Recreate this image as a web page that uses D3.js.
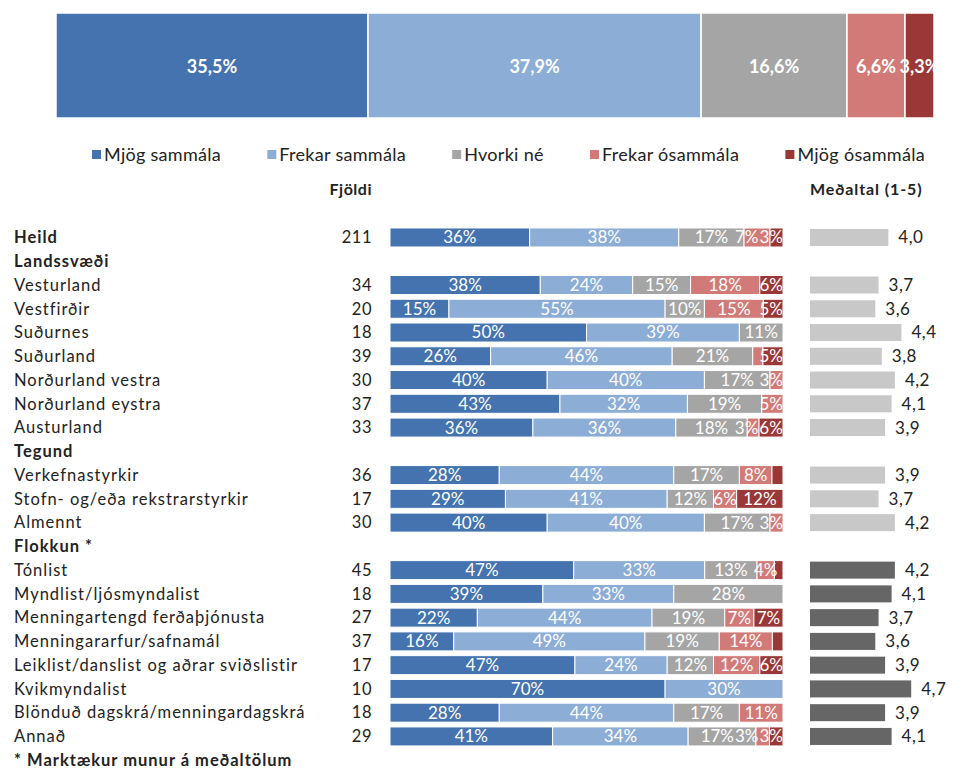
<!DOCTYPE html>
<html>
<head>
<meta charset="utf-8">
<script src="https://cdn.jsdelivr.net/npm/d3@7"></script>
<style>
  body { margin: 0; background: #fff; }
  svg { font-family: Lato, "Open Sans", sans-serif; }
</style>
</head>
<body>
<div id="chart"></div>
<script>
// svarflokkar
const categories = ["Mjög sammála", "Frekar sammála", "Hvorki né", "Frekar ósammála", "Mjög ósammála"];
const colors = ["#4473AF", "#8CADD5", "#A5A5A5", "#D27A77", "#993837"];

// heildin efst
const totalShares = [35.5, 37.9, 16.6, 6.6, 3.3];

// raðir
const rowLabels = ["Heild", "Landssvæði", "Vesturland", "Vestfirðir", "Suðurnes", "Suðurland",
  "Norðurland vestra", "Norðurland eystra", "Austurland", "Tegund", "Verkefnastyrkir",
  "Stofn- og/eða rekstrarstyrkir", "Almennt", "Flokkun *", "Tónlist", "Myndlist/ljósmyndalist",
  "Menningartengd ferðaþjónusta", "Menningararfur/safnamál", "Leiklist/danslist og aðrar sviðslistir",
  "Kvikmyndalist", "Blönduð dagskrá/menningardagskrá", "Annað"];
const boldRows = ["Heild", "Landssvæði", "Tegund", "Flokkun *"];
const counts = [211, null, 34, 20, 18, 39, 30, 37, 33, null, 36, 17, 30, null, 45, 18, 27, 37, 17, 10, 18, 29];
const shares = [
  [35.5, 37.9, 16.6, 6.6, 3.3],
  null,
  [38.2, 23.5, 14.7, 17.6, 5.9],
  [15.0, 55.0, 10.0, 15.0, 5.0],
  [50.0, 38.9, 11.1, 0, 0],
  [25.6, 46.2, 20.5, 2.6, 5.1],
  [40.0, 40.0, 16.7, 3.3, 0],
  [43.2, 32.4, 18.9, 5.4, 0],
  [36.4, 36.4, 18.2, 3.0, 6.1],
  null,
  [27.8, 44.4, 16.7, 8.3, 2.8],
  [29.4, 41.2, 11.8, 5.9, 11.8],
  [40.0, 40.0, 16.7, 3.3, 0],
  null,
  [46.7, 33.3, 13.3, 4.4, 2.2],
  [38.9, 33.3, 27.8, 0, 0],
  [22.2, 44.4, 18.5, 7.4, 7.4],
  [16.2, 48.6, 18.9, 13.5, 2.7],
  [47.1, 23.5, 11.8, 11.8, 5.9],
  [70.0, 30.0, 0, 0, 0],
  [27.8, 44.4, 16.7, 11.1, 0],
  [41.38, 34.48, 17.24, 3.45, 3.45]
];
const means = [4.0, null, 3.7, 3.6, 4.4, 3.8, 4.2, 4.1, 3.9, null, 3.9, 3.7, 4.2, null, 4.2, 4.1, 3.7, 3.6, 3.9, 4.7, 3.9, 4.1];
const significantFrom = 14; // Flokkun-raðir með dökkum meðaltalsstöplum
const footnote = "* Marktækur munur á meðaltölum";

const width = 953, height = 770;
const svg = d3.select("#chart").append("svg")
  .attr("width", width).attr("height", height);

const fmtPct = v => Math.round(v) + "%";
const fmtTop = v => d3.format(".1f")(v).replace(".", ",") + "%";
const fmtMean = v => d3.format(".1f")(v).replace(".", ",");

// ---- efsti stöpullinn
const xTop = d3.scaleLinear().domain([0, d3.sum(totalShares)]).range([56, 934]);
const topStack = [];
let acc = 0;
totalShares.forEach((v, i) => { topStack.push({ v, i, x0: acc, x1: acc + v }); acc += v; });

const topG = svg.append("g");
topG.selectAll("rect").data(topStack).join("rect")
  .attr("x", d => xTop(d.x0)).attr("y", 13)
  .attr("width", d => xTop(d.x1) - xTop(d.x0)).attr("height", 105)
  .attr("fill", d => colors[d.i]).attr("stroke", "#fff").attr("stroke-width", 1.5);
topG.selectAll("text").data(topStack).join("text")
  .attr("x", d => (xTop(d.x0) + xTop(d.x1)) / 2).attr("y", 66)
  .attr("text-anchor", "middle").attr("dominant-baseline", "central")
  .attr("fill", "#fff").style("font-size", "18px").style("font-weight", 700)
  .text(d => fmtTop(d.v));

// ---- skýringar, dreift á milli 92 og 925
const legend = svg.append("g").style("font-size", "18px").style("letter-spacing", "0.3px").attr("fill", "#222");
const items = categories.map((c, i) => {
  const t = legend.append("text").attr("y", 155).attr("dy", "0.35em").text(c);
  return { t, i, w: t.node().getComputedTextLength() };
});
const gap = (925 - 92 - d3.sum(items, d => d.w + 12)) / (items.length - 1);
let lx = 92;
items.forEach(d => {
  legend.append("rect").attr("x", lx).attr("y", 150).attr("width", 9).attr("height", 9).attr("fill", colors[d.i]);
  d.t.attr("x", lx + 12);
  lx += 12 + d.w + gap;
});

// ---- raðir
const y = d3.scaleBand().domain(d3.range(rowLabels.length + 1))
  .range([225.6, 225.6 + 23.76 * (rowLabels.length + 1)]).paddingInner(0.2).paddingOuter(0.1);
const yc = i => y(i) + y.bandwidth() / 2;

svg.append("text").attr("x", 372).attr("y", 189).attr("dy", "0.35em").attr("text-anchor", "end")
  .style("font-size", "16px").style("font-weight", 700).style("letter-spacing", "0.5px").attr("fill", "#222").text("Fjöldi");
svg.append("text").attr("x", 810).attr("y", 189).attr("dy", "0.35em")
  .style("font-size", "16px").style("font-weight", 700).style("letter-spacing", "0.9px").attr("fill", "#222").text("Meðaltal (1-5)");

const labelG = svg.append("g").style("font-size", "16.5px").attr("fill", "#222");
labelG.selectAll("text.lab").data(rowLabels).join("text").attr("class", "lab")
  .attr("x", 14).attr("y", (d, i) => yc(i)).attr("dy", "0.35em")
  .style("letter-spacing", "1px")
  .style("font-weight", d => boldRows.includes(d) ? 700 : 400)
  .text(d => d);
labelG.selectAll("text.n").data(counts).join("text").attr("class", "n")
  .attr("x", 372).attr("y", (d, i) => yc(i)).attr("dy", "0.35em").attr("text-anchor", "end")
  .style("letter-spacing", "0.5px")
  .text(d => d == null ? "" : d);
labelG.append("text").attr("x", 14).attr("y", yc(rowLabels.length)).attr("dy", "0.35em")
  .style("font-weight", 700).style("letter-spacing", "1px").text(footnote);

// staflaðir stöplar
const x = d3.scaleLinear().domain([0, 100]).range([390, 783]);
const barG = svg.append("g");
shares.forEach((row, r) => {
  if (!row) return;
  const tot = d3.sum(row);
  let a = 0;
  const segs = row.map((v, i) => { const s = { v, i, x0: a / tot * 100, x1: (a + v) / tot * 100 }; a += v; return s; })
    .filter(s => s.v > 0);
  const g = barG.append("g");
  g.selectAll("rect").data(segs).join("rect")
    .attr("x", d => x(d.x0)).attr("y", y(r))
    .attr("width", d => x(d.x1) - x(d.x0)).attr("height", y.bandwidth())
    .attr("fill", d => colors[d.i]).attr("stroke", "#fff").attr("stroke-width", 1);
  const labs = segs.filter(s => s.v >= 3);
  const texts = g.selectAll("text").data(labs).join("text")
    .attr("y", yc(r)).attr("dy", "0.35em").attr("text-anchor", "middle")
    .attr("fill", "#fff").style("font-size", "17px")
    .text(d => fmtPct(d.v));
  // ýta merkjum til vinstri svo þau skarist ekki
  const nodes = texts.nodes();
  let limit = x(100);
  for (let k = nodes.length - 1; k >= 0; k--) {
    const d = labs[k];
    const w = nodes[k].getComputedTextLength();
    let cx = (x(d.x0) + x(d.x1)) / 2;
    if (cx + w / 2 > limit) cx = limit - w / 2;
    d3.select(nodes[k]).attr("x", cx);
    limit = cx - w / 2 - 1;
  }
});

// meðaltöl
const xm = d3.scaleLinear().domain([1.6, 5]).range([810, 921]);
const meanG = svg.append("g");
means.forEach((m, r) => {
  if (m == null) return;
  meanG.append("rect").attr("x", xm(1.6)).attr("y", y(r) + 1)
    .attr("width", xm(m) - xm(1.6)).attr("height", y.bandwidth() - 2)
    .attr("fill", r >= significantFrom ? "#666666" : "#C8C8C8");
  meanG.append("text").attr("x", xm(m) + 10).attr("y", yc(r)).attr("dy", "0.35em")
    .style("font-size", "17px").style("letter-spacing", "0.5px").attr("fill", "#222").text(fmtMean(m));
});
</script>
</body>
</html>
